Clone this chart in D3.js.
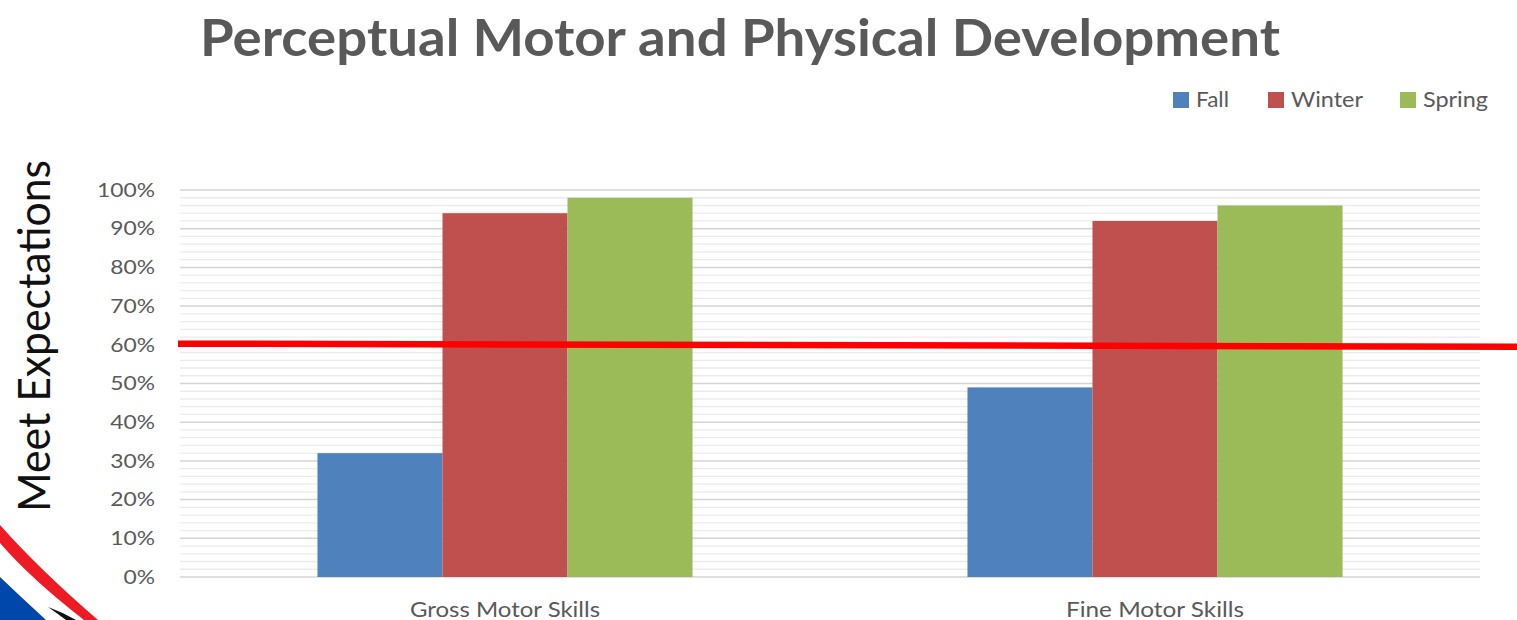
<!DOCTYPE html>
<html>
<head>
<meta charset="utf-8">
<script src="https://cdn.jsdelivr.net/npm/d3@7"></script>
<style>
  html, body { margin: 0; padding: 0; background: #fff; overflow: hidden; }
  text { font-family: Lato, "Open Sans", sans-serif; }
</style>
</head>
<body>
<svg id="chart"></svg>
<script>
// Data.
const categories = ['Gross Motor Skills', 'Fine Motor Skills'];
const seasons = ['Fall', 'Winter', 'Spring'];
const fallValues = [32, 49];
const winterValues = [94, 92];
const springValues = [98, 96];
const yTicks = [0, 10, 20, 30, 40, 50, 60, 70, 80, 90, 100];
const benchmark = [60.3, 59.5]; // hand-drawn red line, left and right end
const seasonColours = ['#4F81BD', '#C0504D', '#9BBB59'];

// Some set up.
const width = 1517;
const height = 620;
const margin = { top: 190, right: 37, bottom: 43, left: 180 };

const svg = d3.select('#chart')
  .attr('width', width)
  .attr('height', height);

// Stretch a text to a target width (the source image is slightly widened).
function fit(sel, w) {
  sel.attr('textLength', w).attr('lengthAdjust', 'spacingAndGlyphs');
}

// Scales.
const x0 = d3.scaleBand()
  .domain(categories)
  .range([margin.left, width - margin.right])
  .paddingInner(0.423)
  .paddingOuter(0.2115);
const x1 = d3.scaleBand()
  .domain(seasons)
  .range([0, x0.bandwidth()]);
const y = d3.scaleLinear()
  .domain([0, 100])
  .range([height - margin.bottom, margin.top]);
const colour = d3.scaleOrdinal().domain(seasons).range(seasonColours);

// Gridlines: minor every 2%, major every 10%.
const grid = svg.append('g');
grid.selectAll('line.minor')
  .data(d3.range(0, 101, 2).filter(d => d % 10 !== 0))
  .join('line')
  .attr('x1', margin.left).attr('x2', width - margin.right)
  .attr('y1', d => y(d)).attr('y2', d => y(d))
  .attr('stroke', '#ebebeb').attr('stroke-width', 1.3);
grid.selectAll('line.major')
  .data(yTicks)
  .join('line')
  .attr('x1', margin.left).attr('x2', width - margin.right)
  .attr('y1', d => y(d)).attr('y2', d => y(d))
  .attr('stroke', '#d4d4d4').attr('stroke-width', 1.5);

// Y axis.
const yAxis = svg.append('g')
  .attr('transform', `translate(${margin.left},0)`)
  .call(d3.axisLeft(y).tickValues(yTicks).tickSize(0).tickPadding(25).tickFormat(d => d + '%'));
yAxis.select('.domain').remove();
yAxis.selectAll('text')
  .attr('font-family', 'Lato, sans-serif')
  .attr('font-size', 19.5)
  .attr('fill', '#595959')
  .each(function() { fit(d3.select(this), this.getComputedTextLength() * 1.17); });

// Bars.
const rows = categories.map((c, i) => ({
  category: c,
  values: [fallValues[i], winterValues[i], springValues[i]].map((v, j) => ({ season: seasons[j], value: v }))
}));
svg.append('g')
  .selectAll('g')
  .data(rows)
  .join('g')
  .attr('transform', d => `translate(${x0(d.category)},0)`)
  .selectAll('rect')
  .data(d => d.values)
  .join('rect')
  .attr('x', d => x1(d.season))
  .attr('width', x1.bandwidth())
  .attr('y', d => y(d.value))
  .attr('height', d => y(0) - y(d.value))
  .attr('fill', d => colour(d.season));

// Category labels.
svg.append('g')
  .selectAll('text')
  .data(categories)
  .join('text')
  .attr('x', d => x0(d) + x0.bandwidth() / 2)
  .attr('y', 617)
  .attr('text-anchor', 'middle')
  .attr('font-size', 21)
  .attr('fill', '#595959')
  .text(d => d)
  .each(function(d, i) { fit(d3.select(this), [190, 178][i]); });

// Red benchmark line.
svg.append('line')
  .attr('x1', margin.left - 2).attr('x2', width)
  .attr('y1', y(benchmark[0])).attr('y2', y(benchmark[1]))
  .attr('stroke', '#ff0000').attr('stroke-width', 6.5);

// Title.
svg.append('text')
  .attr('x', 200).attr('y', 56)
  .attr('font-size', 51)
  .attr('font-weight', 700)
  .attr('fill', '#595959')
  .text('Perceptual Motor and Physical Development')
  .call(fit, 1080);

// Y axis title.
svg.append('text')
  .attr('transform', 'translate(50,512) rotate(-90)')
  .attr('font-size', 44)
  .attr('fill', '#111')
  .text('Meet Expectations')
  .call(fit, 352);

// Legend.
const legendX = [1173, 1268, 1400];
const legendW = [33, 72, 65];
const legend = svg.append('g')
  .selectAll('g')
  .data(seasons)
  .join('g')
  .attr('transform', (d, i) => `translate(${legendX[i]},92)`);
legend.append('rect')
  .attr('width', 16).attr('height', 16)
  .attr('fill', d => colour(d));
legend.append('text')
  .attr('x', 23).attr('y', 15)
  .attr('font-size', 22)
  .attr('fill', '#595959')
  .text(d => d)
  .each(function(d, i) { fit(d3.select(this), legendW[i]); });

// Corner decoration (slide template swoosh).
const deco = svg.append('g');
deco.append('path')
  .attr('d', 'M0,577 Q22,598 46,620 L0,620 Z')
  .attr('fill', '#0047AB');
deco.append('path')
  .attr('d', 'M0,525 Q40,570 98,620 L84,620 Q30,578 0,543 Z')
  .attr('fill', '#ED1C24');
deco.append('path')
  .attr('d', 'M48,607 Q62,612 76,620 L66,620 Q58,614 48,607 Z')
  .attr('fill', '#111');
</script>
</body>
</html>
